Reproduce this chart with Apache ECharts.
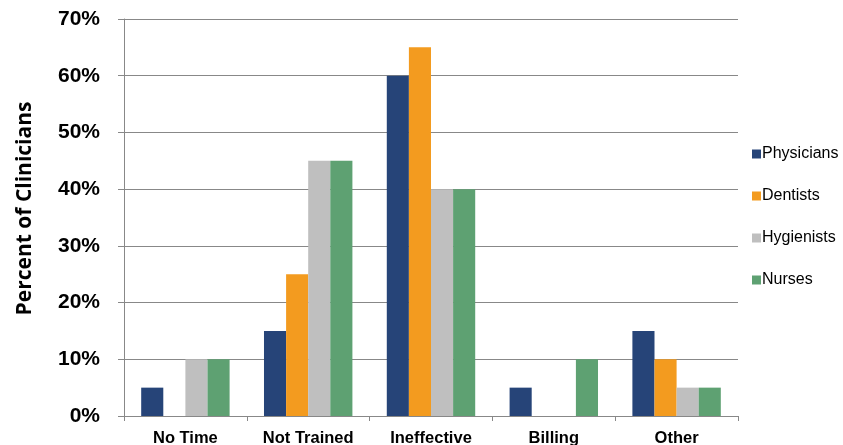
<!DOCTYPE html>
<html>
<head>
<meta charset="utf-8">
<script src="https://cdn.jsdelivr.net/npm/echarts@6/dist/echarts.min.js"></script>
<style>
  html, body { margin: 0; padding: 0; background: #fff; }
  #chart { width: 843px; height: 445px; }
</style>
</head>
<body>
<div id="chart"></div>
<script>
const categories = ['No Time', 'Not Trained', 'Ineffective', 'Billing', 'Other']
const physicians = [5, 15, 60, 5, 15]
const dentists = [0, 25, 65, 0, 10]
const hygienists = [10, 45, 40, 0, 5]
const nurses = [10, 45, 40, 10, 5]

const seriesNames = ['Physicians', 'Dentists', 'Hygienists', 'Nurses']
const seriesData = [physicians, dentists, hygienists, nurses]
const colors = ['#264478', '#F39B1F', '#BFBFBF', '#5EA172']

const myChart = echarts.init(document.getElementById('chart'))
myChart.setOption({
  animation: false,
  color: colors,
  grid: { left: 124, right: 105, top: 19, bottom: 29, containLabel: false, outerBoundsMode: 'none' },
  legend: {
    orient: 'vertical',
    left: 747,
    top: 141,
    itemWidth: 9,
    itemHeight: 9,
    itemGap: 26,
    icon: 'rect',
    textStyle: { fontFamily: 'Liberation Sans', fontSize: 16, color: '#000', padding: [0, 0, 0, -4] },
    data: seriesNames
  },
  xAxis: {
    type: 'category',
    data: categories,
    axisLine: { lineStyle: { color: '#888', width: 1 } },
    axisTick: { show: true, length: 5, lineStyle: { color: '#888' } },
    axisLabel: {
      margin: 14,
      fontFamily: 'Liberation Sans',
      fontWeight: 'bold',
      fontSize: 16.5,
      color: '#000'
    }
  },
  yAxis: {
    type: 'value',
    min: 0,
    max: 70,
    interval: 10,
    name: 'Percent of Clinicians',
    nameLocation: 'middle',
    nameGap: 88,
    nameTextStyle: { fontFamily: 'Open Sans', fontWeight: 'bold', fontSize: 21, color: '#000', padding: [0, 0, 0, 18] },
    axisLine: { show: true, lineStyle: { color: '#888', width: 1 } },
    axisTick: { show: true, length: 6, lineStyle: { color: '#888' } },
    splitLine: { lineStyle: { color: '#888', width: 1 } },
    axisLabel: {
      margin: 24,
      formatter: '{value}%',
      fontFamily: 'Liberation Sans',
      fontWeight: 'bold',
      fontSize: 21,
      color: '#000'
    }
  },
  series: seriesNames.map((name, i) => ({
    name: name,
    type: 'bar',
    data: seriesData[i],
    barGap: '0%',
    barCategoryGap: '28%'
  }))
})
</script>
</body>
</html>
